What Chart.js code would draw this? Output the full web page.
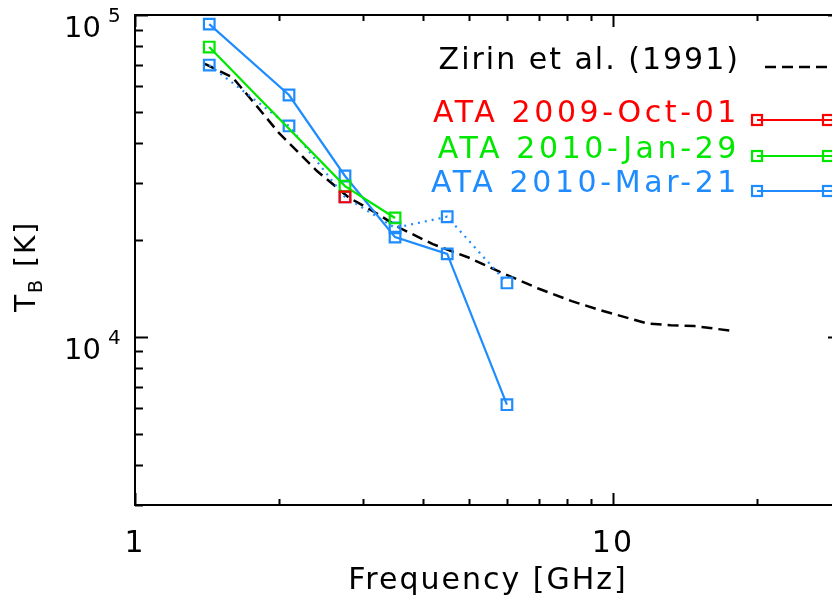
<!DOCTYPE html>
<html>
<head>
<meta charset="utf-8">
<title>ATA brightness temperature spectrum</title>
<script src="https://cdn.jsdelivr.net/npm/chart.js@4.4.1/dist/chart.umd.min.js"></script>
<style>
    html, body { margin: 0; padding: 0; background: #fff; overflow: hidden; }
    #wrap { width: 832px; height: 606px; overflow: hidden; }
    canvas { display: block; }
</style>
</head>
<body>
<div id="wrap"><canvas id="tb-chart" width="900" height="606"></canvas></div>
<script>
// --- data ---
// Zirin et al. (1991) quiet Sun spectrum
const zirinFreq = [1.4, 1.6, 1.8, 2.0, 2.4, 2.8, 3.2, 3.6, 4.2, 5.0, 5.8, 7.0, 8.2, 9.4, 11.8, 13.2, 14.8, 18.0];
const zirinTb = [70500, 64000, 52000, 43000, 32800, 27100, 24200, 21700, 19400, 17600, 15900, 14100, 12900, 12100, 11000, 10850, 10800, 10400];

// ATA 2009-Oct-01
const octFreq = [2.75];
const octTb = [27200];

// ATA 2010-Jan-29
const janFreq = [1.43, 2.75, 3.5];
const janTb = [79500, 29400, 23400];

// ATA 2010-Mar-21 (solid and dotted)
const marFreq = [1.43, 2.1, 2.75, 3.5, 4.5, 6.0];
const marTbSolid = [93700, 56400, 31600, 20400, 18100, 6150];
const marTbDotted = [69900, 45200, 27200, 21800, 23600, 14700];

const xRange = [1, 30];
const yRange = [3000, 100000];
const xLabelTicks = [1, 10];
const yLabelTicks = [1e4, 1e5];

const FONT = 'DejaVu Sans';
const RED = 'rgb(255, 0, 0)';
const GREEN = 'rgb(0, 232, 0)';
const BLUE = 'rgb(30, 140, 255)';

const pts = (xs, ys) => xs.map((x, i) => ({ x: x, y: ys[i] }));

// all 1..9 x 10^n values inside [min, max]
function logTicks(min, max) {
    const out = [];
    for (let e = Math.floor(Math.log10(min)); e <= Math.ceil(Math.log10(max)); e++) {
        for (let m = 1; m <= 9; m++) {
            const v = m * Math.pow(10, e);
            if (v >= min * 0.999 && v <= max * 1.001) out.push({ v: v, major: m === 1 });
        }
    }
    return out;
}

const framePlugin = {
    id: 'frame',
    beforeDraw(chart) {
        chart.ctx.letterSpacing = '2px';
    },
    afterDraw(chart) {
        const { ctx, chartArea: a, scales: { x, y } } = chart;
        ctx.save();
        ctx.strokeStyle = '#000';
        ctx.lineWidth = 2;
        ctx.strokeRect(a.left, a.top, a.right - a.left, a.bottom - a.top);

        // inward tick marks on all four sides
        ctx.beginPath();
        logTicks(x.min, x.max).forEach(t => {
            const px = Math.round(x.getPixelForValue(t.v)) + 0.5;
            const len = t.major ? 12 : 6;
            ctx.moveTo(px, a.bottom); ctx.lineTo(px, a.bottom - len);
            ctx.moveTo(px, a.top); ctx.lineTo(px, a.top + len);
        });
        logTicks(y.min, y.max).forEach(t => {
            const py = Math.round(y.getPixelForValue(t.v)) + 0.5;
            const len = t.major ? 13 : 8;
            ctx.moveTo(a.left, py); ctx.lineTo(a.left + len, py);
            ctx.moveTo(a.right, py); ctx.lineTo(a.right - len, py);
        });
        ctx.stroke();

        // y tick labels as 10^n
        ctx.fillStyle = '#000';
        ctx.letterSpacing = '0px';
        yLabelTicks.forEach(v => {
            const py = y.getPixelForValue(v);
            ctx.font = '29px "' + FONT + '"';
            ctx.textAlign = 'right';
            ctx.textBaseline = 'alphabetic';
            ctx.fillText('10', 101, py + 22);
            ctx.font = '20px "' + FONT + '"';
            ctx.textAlign = 'left';
            ctx.fillText(String(Math.round(Math.log10(v))), 108, py + 7);
        });

        // y axis title T_B [K]
        ctx.letterSpacing = '2px';
        ctx.translate(35, 312);
        ctx.rotate(-Math.PI / 2);
        ctx.textAlign = 'left';
        ctx.font = '28px "' + FONT + '"';
        ctx.fillText('T', 0, 0);
        let off = ctx.measureText('T').width;
        ctx.font = '19px "' + FONT + '"';
        ctx.fillText('B', off, 7);
        off += ctx.measureText('B').width;
        ctx.font = '28px "' + FONT + '"';
        ctx.fillText(' [K]', off, 0);
        ctx.restore();
    }
};

const legendPlugin = {
    id: 'sideLegend',
    afterDraw(chart) {
        const ctx = chart.ctx;
        const rows = [
            { ds: 4, base: 69, line: 67, spacing: '2px' },
            { ds: 0, base: 122, line: 120, spacing: '3.6px' },
            { ds: 1, base: 158, line: 156, spacing: '3.6px' },
            { ds: 2, base: 192, line: 191, spacing: '3.6px' }
        ];
        ctx.save();
        ctx.font = '30px "' + FONT + '"';
        ctx.textAlign = 'right';
        ctx.textBaseline = 'alphabetic';
        rows.forEach(r => {
            const ds = chart.data.datasets[r.ds];
            ctx.letterSpacing = r.spacing;
            ctx.fillStyle = ds.borderColor;
            ctx.fillText(ds.label, 740, r.base);

            ctx.strokeStyle = ds.borderColor;
            ctx.lineWidth = ds.borderWidth;
            ctx.setLineDash(ds.borderDash || []);
            ctx.beginPath();
            const x0 = ds.pointRadius ? 757 : 765;
            ctx.moveTo(x0, r.line);
            ctx.lineTo(900, r.line);
            ctx.stroke();
            ctx.setLineDash([]);
            if (ds.pointRadius) {
                ctx.lineWidth = 2.2;
                [757, 828].forEach(cx => ctx.strokeRect(cx - 5, r.line - 5, 10, 10));
            }
        });
        ctx.restore();
    }
};

const squareStyle = (color) => ({
    borderColor: color,
    borderWidth: 2.2,
    pointStyle: 'rect',
    pointRadius: 7.5,
    pointBorderWidth: 2.2,
    pointBorderColor: color,
    pointBackgroundColor: 'rgba(0,0,0,0)',
    showLine: true,
    tension: 0
});

new Chart(document.getElementById('tb-chart'), {
    type: 'scatter',
    data: {
        datasets: [
            Object.assign({ label: 'ATA 2009-Oct-01', data: pts(octFreq, octTb) }, squareStyle(RED)),
            Object.assign({ label: 'ATA 2010-Jan-29', data: pts(janFreq, janTb) }, squareStyle(GREEN)),
            Object.assign({ label: 'ATA 2010-Mar-21', data: pts(marFreq, marTbSolid) }, squareStyle(BLUE)),
            Object.assign({ label: 'ATA 2010-Mar-21 (dotted)', data: pts(marFreq, marTbDotted), borderDash: [2, 5] }, squareStyle(BLUE)),
            {
                label: 'Zirin et al. (1991)',
                data: pts(zirinFreq, zirinTb),
                borderColor: '#000',
                borderWidth: 2.5,
                borderDash: [11, 6],
                pointRadius: 0,
                showLine: true,
                tension: 0
            }
        ]
    },
    options: {
        responsive: false,
        animation: false,
        events: [],
        layout: { padding: { left: 0, top: 15, right: 59, bottom: 0 } },
        plugins: {
            legend: { display: false },
            tooltip: { enabled: false }
        },
        scales: {
            x: {
                type: 'logarithmic',
                min: xRange[0],
                max: xRange[1],
                grid: { display: false, drawTicks: false },
                border: { display: false },
                ticks: {
                    autoSkip: false,
                    maxRotation: 0,
                    padding: 21,
                    color: '#000',
                    font: { family: FONT, size: 30 },
                    callback: v => xLabelTicks.includes(v) ? String(v) : ''
                },
                title: {
                    display: true,
                    text: 'Frequency [GHz]',
                    color: '#000',
                    font: { family: FONT, size: 30 },
                    padding: { top: 0, bottom: 7 }
                },
                afterFit: s => { s.height = 101; }
            },
            y: {
                type: 'logarithmic',
                min: yRange[0],
                max: yRange[1],
                grid: { display: false, drawTicks: false },
                border: { display: false },
                ticks: { display: false },
                afterFit: s => { s.width = 135; }
            }
        }
    },
    plugins: [framePlugin, legendPlugin]
});
</script>
</body>
</html>
